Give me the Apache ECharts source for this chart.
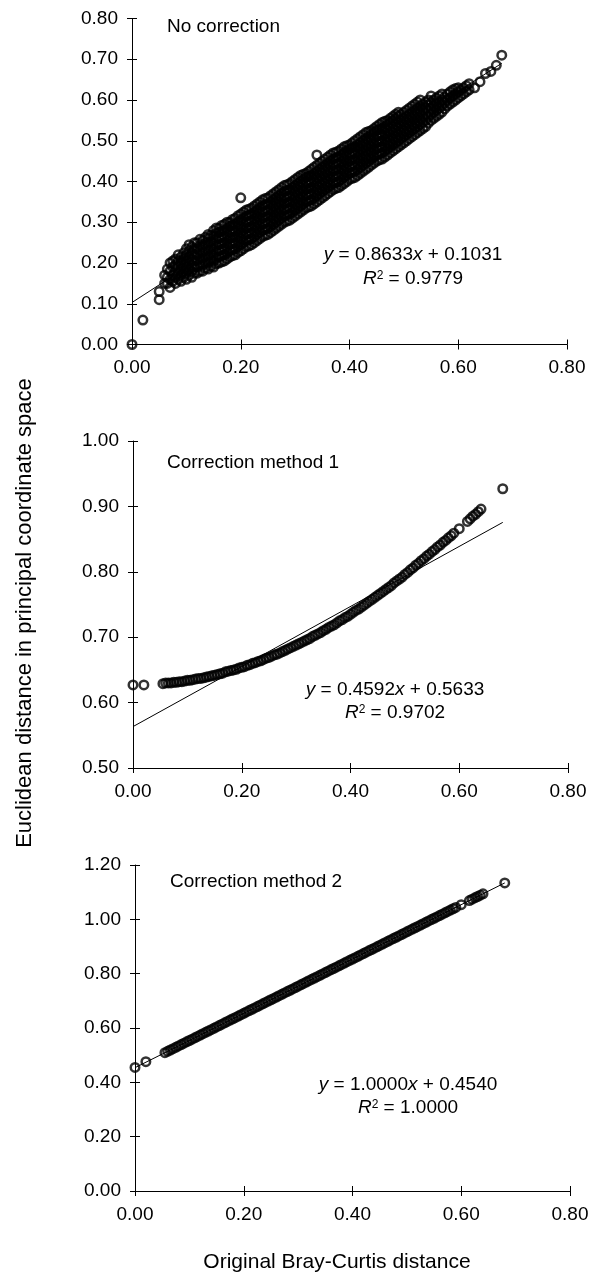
<!DOCTYPE html>
<html>
<head>
<meta charset="utf-8">
<script src="https://cdn.jsdelivr.net/npm/echarts@6/dist/echarts.min.js"></script>
<style>
html,body{margin:0;padding:0;background:#fff;}
#chart{width:593px;height:1274px;}
</style>
</head>
<body>
<div id="chart"></div>
<script>
// ---------------- DATA ----------------
const panelTitles = ['No correction', 'Correction method 1', 'Correction method 2'];
const xTicks = [0.00, 0.20, 0.40, 0.60, 0.80];
const yTicks1 = [0.00, 0.10, 0.20, 0.30, 0.40, 0.50, 0.60, 0.70, 0.80];
const yTicks2 = [0.50, 0.60, 0.70, 0.80, 0.90, 1.00];
const yTicks3 = [0.00, 0.20, 0.40, 0.60, 0.80, 1.00, 1.20];
const fitSlopes = [0.8633, 0.4592, 1.0000];
const fitIntercepts = [0.1031, 0.5633, 0.4540];
const fitR2 = ['0.9779', '0.9702', '1.0000'];
const fitXRange = [0.00, 0.68];
const xName = 'Original Bray-Curtis distance';
const yName = 'Euclidean distance in principal coordinate space';

// Panel 1 (no correction): columns of points [x, [y values]] read off the cloud
const p1Cols = [
  [0.05, [0.13]],
  [0.06, [0.15, 0.17]],
  [0.07, [0.14, 0.16, 0.18, 0.20]],
  [0.08, [0.15, 0.165, 0.18, 0.195, 0.21]],
  [0.09, [0.155, 0.17, 0.185, 0.20, 0.215]],
  [0.10, [0.16, 0.175, 0.19, 0.205, 0.22, 0.235]],
  [0.11, [0.165, 0.18, 0.195, 0.21, 0.225, 0.24]],
  [0.12, [0.175, 0.19, 0.205, 0.22, 0.235, 0.25]],
  [0.13, [0.18, 0.195, 0.21, 0.225, 0.24, 0.255]],
  [0.14, [0.185, 0.20, 0.215, 0.23, 0.245, 0.26, 0.27]],
  [0.15, [0.19, 0.205, 0.22, 0.235, 0.25, 0.265, 0.28]],
  [0.16, [0.20, 0.215, 0.23, 0.245, 0.26, 0.275, 0.285]],
  [0.17, [0.205, 0.22, 0.235, 0.25, 0.265, 0.28, 0.295]],
  [0.18, [0.215, 0.23, 0.245, 0.26, 0.275, 0.29, 0.30]],
  [0.19, [0.22, 0.235, 0.25, 0.265, 0.28, 0.295, 0.31]],
  [0.20, [0.23, 0.245, 0.26, 0.275, 0.29, 0.305, 0.32, 0.36]],
  [0.21, [0.24, 0.255, 0.27, 0.285, 0.30, 0.315, 0.33]],
  [0.22, [0.245, 0.26, 0.275, 0.29, 0.305, 0.32, 0.335]],
  [0.23, [0.255, 0.27, 0.285, 0.30, 0.315, 0.33, 0.345]],
  [0.24, [0.265, 0.28, 0.295, 0.31, 0.325, 0.34, 0.355]],
  [0.25, [0.27, 0.285, 0.30, 0.315, 0.33, 0.345, 0.36]],
  [0.26, [0.28, 0.295, 0.31, 0.325, 0.34, 0.355, 0.37]],
  [0.27, [0.29, 0.305, 0.32, 0.335, 0.35, 0.365, 0.38]],
  [0.28, [0.30, 0.315, 0.33, 0.345, 0.36, 0.375, 0.39]],
  [0.29, [0.305, 0.32, 0.335, 0.35, 0.365, 0.38, 0.395]],
  [0.30, [0.315, 0.33, 0.345, 0.36, 0.375, 0.39, 0.405]],
  [0.31, [0.325, 0.34, 0.355, 0.37, 0.385, 0.40, 0.415]],
  [0.32, [0.335, 0.35, 0.365, 0.38, 0.395, 0.41, 0.42]],
  [0.33, [0.34, 0.355, 0.37, 0.385, 0.40, 0.415, 0.43]],
  [0.34, [0.35, 0.365, 0.38, 0.395, 0.41, 0.425, 0.44, 0.465]],
  [0.35, [0.36, 0.375, 0.39, 0.405, 0.42, 0.435, 0.45]],
  [0.36, [0.37, 0.385, 0.40, 0.415, 0.43, 0.445, 0.46]],
  [0.37, [0.38, 0.395, 0.41, 0.425, 0.44, 0.455, 0.47]],
  [0.38, [0.385, 0.40, 0.415, 0.43, 0.445, 0.46, 0.475]],
  [0.39, [0.395, 0.41, 0.425, 0.44, 0.455, 0.47, 0.485]],
  [0.40, [0.405, 0.42, 0.435, 0.45, 0.465, 0.48, 0.49]],
  [0.41, [0.41, 0.425, 0.44, 0.455, 0.47, 0.485, 0.50]],
  [0.42, [0.42, 0.435, 0.45, 0.465, 0.48, 0.495, 0.51]],
  [0.43, [0.43, 0.445, 0.46, 0.475, 0.49, 0.505, 0.52]],
  [0.44, [0.44, 0.455, 0.47, 0.485, 0.50, 0.515, 0.525]],
  [0.45, [0.45, 0.465, 0.48, 0.495, 0.51, 0.525, 0.535]],
  [0.46, [0.455, 0.47, 0.485, 0.50, 0.515, 0.53, 0.545]],
  [0.47, [0.465, 0.48, 0.495, 0.51, 0.525, 0.54, 0.55]],
  [0.48, [0.475, 0.49, 0.505, 0.52, 0.535, 0.55, 0.56]],
  [0.49, [0.485, 0.50, 0.515, 0.53, 0.545, 0.56, 0.57]],
  [0.50, [0.495, 0.51, 0.525, 0.54, 0.555, 0.57]],
  [0.51, [0.505, 0.52, 0.535, 0.55, 0.565, 0.58]],
  [0.52, [0.515, 0.53, 0.545, 0.56, 0.575, 0.59]],
  [0.53, [0.525, 0.54, 0.555, 0.57, 0.585, 0.60]],
  [0.54, [0.535, 0.55, 0.565, 0.58, 0.595]],
  [0.55, [0.55, 0.565, 0.58, 0.595, 0.61]],
  [0.56, [0.56, 0.575, 0.59, 0.605]],
  [0.57, [0.57, 0.585, 0.60, 0.615]],
  [0.58, [0.585, 0.60, 0.615]],
  [0.59, [0.595, 0.61, 0.625]],
  [0.60, [0.605, 0.62, 0.63]],
  [0.61, [0.615, 0.63]],
  [0.62, [0.625, 0.64]],
  [0.63, [0.63]],
  [0.64, [0.645]],
  [0.65, [0.665]],
  [0.66, [0.67]],
  [0.67, [0.685]],
  [0.68, [0.71]]
];
// in-between columns of the same cloud
const p1ColsB = [
  [0.065, [0.15, 0.165, 0.185]],
  [0.075, [0.155, 0.17, 0.19, 0.205]],
  [0.085, [0.16, 0.175, 0.19, 0.205, 0.22]],
  [0.095, [0.165, 0.18, 0.195, 0.21, 0.225]],
  [0.105, [0.17, 0.185, 0.20, 0.215, 0.23, 0.245]],
  [0.115, [0.175, 0.19, 0.205, 0.22, 0.235, 0.25]],
  [0.125, [0.18, 0.197, 0.212, 0.228, 0.243, 0.258]],
  [0.135, [0.187, 0.202, 0.218, 0.233, 0.248, 0.263]],
  [0.145, [0.192, 0.208, 0.223, 0.238, 0.253, 0.268]],
  [0.155, [0.198, 0.213, 0.228, 0.243, 0.258, 0.273, 0.286]],
  [0.165, [0.203, 0.218, 0.233, 0.248, 0.263, 0.278, 0.292]],
  [0.175, [0.21, 0.225, 0.24, 0.255, 0.27, 0.285, 0.30]],
  [0.185, [0.218, 0.233, 0.248, 0.263, 0.278, 0.293, 0.307]],
  [0.195, [0.226, 0.241, 0.256, 0.271, 0.286, 0.301, 0.316]],
  [0.205, [0.235, 0.25, 0.265, 0.28, 0.295, 0.31, 0.325]],
  [0.215, [0.242, 0.257, 0.272, 0.287, 0.302, 0.317, 0.332]],
  [0.225, [0.25, 0.265, 0.28, 0.295, 0.31, 0.325, 0.34]],
  [0.235, [0.26, 0.275, 0.29, 0.305, 0.32, 0.335, 0.35]],
  [0.245, [0.268, 0.283, 0.298, 0.313, 0.328, 0.343, 0.358]],
  [0.255, [0.275, 0.29, 0.305, 0.32, 0.335, 0.35, 0.365]],
  [0.265, [0.285, 0.30, 0.315, 0.33, 0.345, 0.36, 0.375]],
  [0.275, [0.295, 0.31, 0.325, 0.34, 0.355, 0.37, 0.385]],
  [0.285, [0.303, 0.318, 0.333, 0.348, 0.363, 0.378, 0.392]],
  [0.295, [0.31, 0.325, 0.34, 0.355, 0.37, 0.385, 0.40]],
  [0.305, [0.32, 0.335, 0.35, 0.365, 0.38, 0.395, 0.41]],
  [0.315, [0.33, 0.345, 0.36, 0.375, 0.39, 0.405, 0.418]],
  [0.325, [0.338, 0.353, 0.368, 0.383, 0.398, 0.413, 0.425]],
  [0.335, [0.345, 0.36, 0.375, 0.39, 0.405, 0.42, 0.435]],
  [0.345, [0.355, 0.37, 0.385, 0.40, 0.415, 0.43, 0.445]],
  [0.355, [0.365, 0.38, 0.395, 0.41, 0.425, 0.44, 0.455]],
  [0.365, [0.375, 0.39, 0.405, 0.42, 0.435, 0.45, 0.465]],
  [0.375, [0.383, 0.398, 0.413, 0.428, 0.443, 0.458, 0.472]],
  [0.385, [0.39, 0.405, 0.42, 0.435, 0.45, 0.465, 0.48]],
  [0.395, [0.40, 0.415, 0.43, 0.445, 0.46, 0.475, 0.488]],
  [0.405, [0.408, 0.423, 0.438, 0.453, 0.468, 0.483, 0.495]],
  [0.415, [0.415, 0.43, 0.445, 0.46, 0.475, 0.49, 0.505]],
  [0.425, [0.425, 0.44, 0.455, 0.47, 0.485, 0.50, 0.515]],
  [0.435, [0.435, 0.45, 0.465, 0.48, 0.495, 0.51, 0.523]],
  [0.445, [0.445, 0.46, 0.475, 0.49, 0.505, 0.52, 0.53]],
  [0.455, [0.453, 0.468, 0.483, 0.498, 0.513, 0.528, 0.54]],
  [0.465, [0.46, 0.475, 0.49, 0.505, 0.52, 0.535, 0.548]],
  [0.475, [0.47, 0.485, 0.50, 0.515, 0.53, 0.545, 0.555]],
  [0.485, [0.48, 0.495, 0.51, 0.525, 0.54, 0.555, 0.565]],
  [0.495, [0.49, 0.505, 0.52, 0.535, 0.55, 0.565]],
  [0.505, [0.50, 0.515, 0.53, 0.545, 0.56, 0.575]],
  [0.515, [0.51, 0.525, 0.54, 0.555, 0.57, 0.585]],
  [0.525, [0.52, 0.535, 0.55, 0.565, 0.58, 0.595]],
  [0.535, [0.53, 0.545, 0.56, 0.575, 0.59]],
  [0.545, [0.543, 0.558, 0.573, 0.588, 0.60]],
  [0.555, [0.555, 0.57, 0.585, 0.60]],
  [0.565, [0.565, 0.58, 0.595, 0.61]],
  [0.575, [0.578, 0.593, 0.607]],
  [0.585, [0.59, 0.605, 0.62]],
  [0.595, [0.60, 0.615, 0.628]],
  [0.605, [0.61, 0.625]],
  [0.615, [0.62, 0.635]]
];
const p1Extra = [[0.00, 0.00], [0.02, 0.06], [0.05, 0.11]];

// Panel 2 (correction method 1)
const p2Points = [
  [0.000,0.627],[0.020,0.627],[0.055,0.629],[0.060,0.630],[0.065,0.630],[0.070,0.630],[0.075,0.631],[0.080,0.631],
  [0.085,0.632],[0.090,0.632],[0.095,0.633],[0.100,0.634],[0.105,0.634],[0.110,0.635],[0.115,0.636],[0.120,0.637],
  [0.125,0.637],[0.130,0.638],[0.135,0.639],[0.140,0.640],[0.145,0.641],[0.150,0.642],[0.155,0.643],[0.160,0.644],
  [0.165,0.645],[0.170,0.647],[0.175,0.648],[0.180,0.649],[0.185,0.650],[0.190,0.651],[0.195,0.653],[0.200,0.654],
  [0.205,0.655],[0.210,0.657],[0.215,0.658],[0.220,0.660],[0.225,0.661],[0.230,0.663],[0.235,0.664],[0.240,0.666],
  [0.245,0.668],[0.250,0.669],[0.255,0.671],[0.260,0.673],[0.265,0.674],[0.270,0.676],[0.275,0.678],[0.280,0.680],
  [0.285,0.682],[0.290,0.684],[0.295,0.686],[0.300,0.688],[0.305,0.690],[0.310,0.692],[0.315,0.694],[0.320,0.696],
  [0.325,0.698],[0.330,0.701],[0.335,0.703],[0.340,0.705],[0.345,0.707],[0.350,0.710],[0.355,0.712],[0.360,0.715],
  [0.365,0.717],[0.370,0.719],[0.375,0.722],[0.380,0.725],[0.385,0.727],[0.390,0.730],[0.395,0.732],[0.400,0.735],
  [0.405,0.738],[0.410,0.741],[0.415,0.743],[0.420,0.746],[0.425,0.749],[0.430,0.752],[0.435,0.755],[0.440,0.758],
  [0.445,0.761],[0.450,0.764],[0.455,0.767],[0.460,0.770],[0.465,0.773],[0.470,0.776],[0.475,0.779],[0.480,0.783],
  [0.485,0.786],[0.490,0.789],[0.495,0.792],[0.500,0.796],[0.505,0.799],[0.510,0.803],[0.515,0.806],[0.520,0.810],
  [0.525,0.813],[0.530,0.817],[0.535,0.820],[0.540,0.824],[0.545,0.827],[0.550,0.831],[0.555,0.834],[0.560,0.838],
  [0.565,0.841],[0.570,0.845],[0.575,0.848],[0.580,0.852],[0.585,0.855],[0.590,0.859],[0.600,0.866],[0.615,0.877],
  [0.620,0.881],[0.625,0.885],[0.630,0.888],[0.635,0.892],[0.640,0.896],[0.680,0.927]
];

// Panel 3 (correction method 2)
const p3Points = [
  [0.000,0.455],[0.020,0.476],[0.055,0.509],[0.060,0.514],[0.065,0.519],[0.070,0.524],[0.075,0.529],[0.080,0.534],
  [0.085,0.539],[0.090,0.544],[0.095,0.549],[0.100,0.554],[0.105,0.559],[0.110,0.564],[0.115,0.569],[0.120,0.574],
  [0.125,0.579],[0.130,0.584],[0.135,0.589],[0.140,0.594],[0.145,0.599],[0.150,0.604],[0.155,0.609],[0.160,0.614],
  [0.165,0.619],[0.170,0.624],[0.175,0.629],[0.180,0.634],[0.185,0.639],[0.190,0.644],[0.195,0.649],[0.200,0.654],
  [0.205,0.659],[0.210,0.664],[0.215,0.669],[0.220,0.674],[0.225,0.679],[0.230,0.684],[0.235,0.689],[0.240,0.694],
  [0.245,0.699],[0.250,0.704],[0.255,0.709],[0.260,0.714],[0.265,0.719],[0.270,0.724],[0.275,0.729],[0.280,0.734],
  [0.285,0.739],[0.290,0.744],[0.295,0.749],[0.300,0.754],[0.305,0.759],[0.310,0.764],[0.315,0.769],[0.320,0.774],
  [0.325,0.779],[0.330,0.784],[0.335,0.789],[0.340,0.794],[0.345,0.799],[0.350,0.804],[0.355,0.809],[0.360,0.814],
  [0.365,0.819],[0.370,0.824],[0.375,0.829],[0.380,0.834],[0.385,0.839],[0.390,0.844],[0.395,0.849],[0.400,0.854],
  [0.405,0.859],[0.410,0.864],[0.415,0.869],[0.420,0.874],[0.425,0.879],[0.430,0.884],[0.435,0.889],[0.440,0.894],
  [0.445,0.899],[0.450,0.904],[0.455,0.909],[0.460,0.914],[0.465,0.919],[0.470,0.924],[0.475,0.929],[0.480,0.934],
  [0.485,0.939],[0.490,0.944],[0.495,0.949],[0.500,0.954],[0.505,0.959],[0.510,0.964],[0.515,0.969],[0.520,0.974],
  [0.525,0.979],[0.530,0.984],[0.535,0.989],[0.540,0.994],[0.545,0.999],[0.550,1.004],[0.555,1.009],[0.560,1.014],
  [0.565,1.019],[0.570,1.024],[0.575,1.029],[0.580,1.034],[0.585,1.039],[0.590,1.044],[0.600,1.054],[0.615,1.069],
  [0.620,1.074],[0.625,1.079],[0.630,1.084],[0.635,1.089],[0.640,1.094],[0.680,1.134]
];

// ---------------- LAYOUT ----------------
const FONT = "'Liberation Sans', Arial, Helvetica, sans-serif";
const grids = [
  {left: 132, top: 18.5, width: 435, height: 326},
  {left: 133, top: 441, width: 435, height: 327},
  {left: 135, top: 865, width: 435, height: 326}
];
const yTickSets = [yTicks1, yTicks2, yTicks3];
const titlePos = [[167, 27], [167, 463], [170, 882]];
const eqPos = [[413, 255, 279], [395, 690, 713], [408, 1085, 1108]];

const toPairs = cols => cols.flatMap(([x, ys]) => ys.map(y => [x, y]));
const p1Data = toPairs(p1Cols).concat(toPairs(p1ColsB), p1Extra);
const scatterData = [p1Data, p2Points, p3Points];

function step(t) { return Math.round((t[1] - t[0]) * 1e6) / 1e6; }
const fmt = v => v.toFixed(2);

const xAxes = [], yAxes = [], series = [], graphics = [];
for (let i = 0; i < 3; i++) {
  const yt = yTickSets[i];
  const baseX = {
    type: 'value', gridIndex: i, position: 'bottom', min: xTicks[0], max: xTicks[xTicks.length - 1], interval: step(xTicks),
    splitLine: {show: false}
  };
  const baseY = {
    type: 'value', gridIndex: i, position: 'left', offset: 0, min: yt[0], max: yt[yt.length - 1], interval: step(yt),
    splitLine: {show: false}
  };
  xAxes.push(Object.assign({}, baseX, {
    axisLine: {show: true, onZero: false, lineStyle: {color: '#000', width: 1}},
    axisTick: {show: true, length: 5, lineStyle: {color: '#000', width: 1}},
    axisLabel: {formatter: fmt, fontSize: 19, color: '#000', fontFamily: FONT, margin: 14, showMaxLabel: true, showMinLabel: true}
  }));
  xAxes.push(Object.assign({}, baseX, {
    axisLine: {show: false, onZero: false}, axisLabel: {show: false},
    axisTick: {show: true, inside: true, length: 5, lineStyle: {color: '#000', width: 1}}
  }));
  yAxes.push(Object.assign({}, baseY, {
    axisLine: {show: true, onZero: false, lineStyle: {color: '#000', width: 1}},
    axisTick: {show: true, length: 5, lineStyle: {color: '#000', width: 1}},
    axisLabel: {formatter: fmt, fontSize: 19, color: '#000', fontFamily: FONT, margin: 14, showMaxLabel: true, showMinLabel: true}
  }));
  yAxes.push(Object.assign({}, baseY, {
    axisLine: {show: false, onZero: false}, axisLabel: {show: false},
    axisTick: {show: true, inside: true, length: 5, lineStyle: {color: '#000', width: 1}}
  }));

  series.push({
    type: 'line', xAxisIndex: 2 * i, yAxisIndex: 2 * i, silent: true, showSymbol: false, symbol: 'none',
    data: fitXRange.map(x => [x, fitSlopes[i] * x + fitIntercepts[i]]),
    lineStyle: {color: '#000', width: 1}, z: 3, animation: false
  });
  series.push({
    type: 'scatter', xAxisIndex: 2 * i, yAxisIndex: 2 * i, silent: true, clip: false,
    symbol: 'circle', symbolSize: 8.5,
    itemStyle: {color: 'rgba(0,0,0,0)', borderColor: '#000', borderWidth: 2.5},
    data: scatterData[i], z: 2, animation: false
  });

  graphics.push({
    type: 'text', x: titlePos[i][0], y: titlePos[i][1],
    style: {text: panelTitles[i], fontSize: 19, fontFamily: FONT, fill: '#000', align: 'left', verticalAlign: 'middle'}
  });
  graphics.push({
    type: 'text', x: eqPos[i][0], y: eqPos[i][1],
    style: {
      text: '{i|y} = ' + fitSlopes[i].toFixed(4) + '{i|x} + ' + fitIntercepts[i].toFixed(4),
      fontSize: 19, fontFamily: FONT, fill: '#000', align: 'center', verticalAlign: 'middle',
      rich: {i: {fontStyle: 'italic', fontSize: 19, fontFamily: FONT, fill: '#000'}}
    }
  });
  graphics.push({
    type: 'text', x: eqPos[i][0], y: eqPos[i][2],
    style: {
      text: '{i|R}{s|2} = ' + fitR2[i],
      fontSize: 19, fontFamily: FONT, fill: '#000', align: 'center', verticalAlign: 'middle',
      rich: {
        i: {fontStyle: 'italic', fontSize: 19, fontFamily: FONT, fill: '#000'},
        s: {fontSize: 12, fontFamily: FONT, fill: '#000', verticalAlign: 'top', lineHeight: 19, padding: [0, 0, 6, 0]}
      }
    }
  });
}

graphics.push({
  type: 'text', x: 25, y: 613, rotation: Math.PI / 2,
  style: {text: yName, fontSize: 22, fontFamily: FONT, fill: '#000', align: 'center', verticalAlign: 'middle'}
});
graphics.push({
  type: 'text', x: 337, y: 1262,
  style: {text: xName, fontSize: 21, fontFamily: FONT, fill: '#000', align: 'center', verticalAlign: 'middle'}
});

const chart = echarts.init(document.getElementById('chart'), null, {renderer: 'canvas'});
chart.setOption({
  backgroundColor: '#fff',
  animation: false,
  grid: grids.map(g => Object.assign({containLabel: false}, g)),
  xAxis: xAxes,
  yAxis: yAxes,
  series: series,
  graphic: graphics
});
</script>
</body>
</html>
